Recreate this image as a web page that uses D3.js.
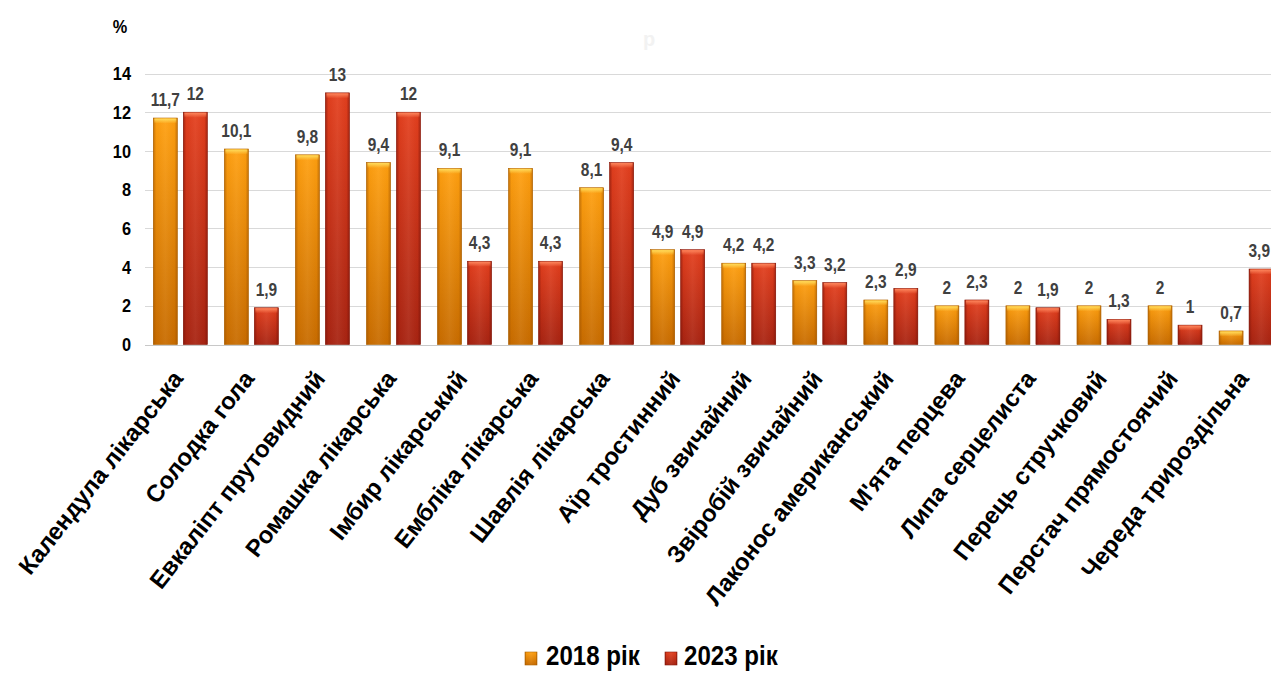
<!DOCTYPE html>
<html>
<head>
<meta charset="utf-8">
<script src="https://cdn.jsdelivr.net/npm/d3@7"></script>
<style>
  html, body { margin: 0; padding: 0; background: #fff; overflow: hidden; }
  svg { display: block; }
  .bold { font-family: "Liberation Sans", Arial, sans-serif; font-weight: bold; }
</style>
</head>
<body>
<svg id="chart" width="1271" height="675"></svg>
<script>
// Share of respondents per medicinal plant, %
const categories = [
  "Календула лікарська", "Солодка гола", "Евкаліпт прутовидний", "Ромашка лікарська",
  "Імбир лікарський", "Ембліка лікарська", "Шавлія лікарська", "Аїр тростинний",
  "Дуб звичайний", "Звіробій звичайний", "Лаконос американський", "М'ята перцева",
  "Липа серцелиста", "Перець стручковий", "Перстач прямостоячий", "Череда трироздільна"
];
const seriesNames = ["2018 рік", "2023 рік"];
const values2018 = [11.7, 10.1, 9.8, 9.4, 9.1, 9.1, 8.1, 4.9, 4.2, 3.3, 2.3, 2, 2, 2, 2, 0.7];
const values2023 = [12, 1.9, 13, 12, 4.3, 4.3, 9.4, 4.9, 4.2, 3.2, 2.9, 2.3, 1.9, 1.3, 1, 3.9];
const yTicks = [0, 2, 4, 6, 8, 10, 12, 14];

const svg = d3.select("#chart");
const W = 1271, H = 675;
const NARROW = 0.86; // horizontal squeeze for condensed number labels

const x = d3.scaleBand().domain(categories).range([144.8, 1281.6]).paddingInner(0).paddingOuter(0);
const xs = d3.scaleBand().domain(seriesNames).range([0, x.bandwidth()]).paddingInner(0.2).paddingOuter(0.284);
const y = d3.scaleLinear().domain([0, 14]).range([344.5, 73.5]);

// gradients
const defs = svg.append("defs");
const palettes = {
  "2018 рік": { top: "#ffa010", bottom: "#c86c00", edge: "#9a5000", bevel: "#ffe060", stroke: "#b06400" },
  "2023 рік": { top: "#e4401e", bottom: "#a82412", edge: "#701008", bevel: "#ff8a60", stroke: "#8a1a0a" }
};
seriesNames.forEach((s, i) => {
  const p = palettes[s];
  const v = defs.append("linearGradient").attr("id", "v" + i).attr("x1", 0).attr("y1", 0).attr("x2", 0).attr("y2", 1);
  v.append("stop").attr("offset", "0%").attr("stop-color", p.top);
  v.append("stop").attr("offset", "100%").attr("stop-color", p.bottom);
  const h = defs.append("linearGradient").attr("id", "h" + i).attr("x1", 0).attr("y1", 0).attr("x2", 1).attr("y2", 0);
  h.append("stop").attr("offset", "0%").attr("stop-color", p.edge).attr("stop-opacity", 0.55);
  h.append("stop").attr("offset", "12%").attr("stop-color", p.edge).attr("stop-opacity", 0.05);
  h.append("stop").attr("offset", "50%").attr("stop-color", "#fff").attr("stop-opacity", 0.06);
  h.append("stop").attr("offset", "88%").attr("stop-color", p.edge).attr("stop-opacity", 0.05);
  h.append("stop").attr("offset", "100%").attr("stop-color", p.edge).attr("stop-opacity", 0.55);
  const b = defs.append("linearGradient").attr("id", "b" + i).attr("x1", 0).attr("y1", 0).attr("x2", 0).attr("y2", 1);
  b.append("stop").attr("offset", "0%").attr("stop-color", p.bevel).attr("stop-opacity", 0.95);
  b.append("stop").attr("offset", "100%").attr("stop-color", p.bevel).attr("stop-opacity", 0);
});

// gridlines
svg.append("g").selectAll("line").data(yTicks).join("line")
  .attr("x1", 145).attr("x2", W)
  .attr("y1", d => Math.round(y(d)) + 0.5).attr("y2", d => Math.round(y(d)) + 0.5)
  .attr("stroke", d => d === 0 ? "#c8c8c8" : "#d9d9d9").attr("stroke-width", 1);

// y axis labels
const yAxis = d3.axisLeft(y).tickValues(yTicks).tickSize(0).tickPadding(0);
const ya = svg.append("g").attr("transform", "translate(131,0)").call(yAxis);
ya.select(".domain").remove();
ya.selectAll("text").attr("class", "bold").attr("font-size", 19).attr("fill", "#000")
  .attr("transform", `scale(${NARROW},1)`);

svg.append("text").attr("class", "bold").attr("transform", `translate(120,33) scale(${NARROW},1)`)
  .attr("text-anchor", "middle").attr("font-size", 19).attr("fill", "#000").text("%");
svg.append("text").attr("class", "bold").attr("x", 649).attr("y", 46)
  .attr("text-anchor", "middle").attr("font-size", 20).attr("fill", "#f2f2f2").text("р");

// bars
const rows = categories.map((c, i) => ({ c, vals: [values2018[i], values2023[i]] }));
const groups = svg.append("g").selectAll("g").data(rows).join("g")
  .attr("transform", d => `translate(${x(d.c)},0)`);

seriesNames.forEach((s, si) => {
  const bx = d => xs(s);
  const top = d => y(d.vals[si]);
  const hgt = d => y(0) - y(d.vals[si]);
  groups.append("rect").attr("x", bx).attr("y", top).attr("width", xs.bandwidth()).attr("height", hgt)
    .attr("fill", `url(#v${si})`).attr("stroke", palettes[s].stroke).attr("stroke-width", 0.6);
  groups.append("rect").attr("x", bx).attr("y", top).attr("width", xs.bandwidth()).attr("height", hgt)
    .attr("fill", `url(#h${si})`);
  groups.append("rect").attr("x", d => bx(d) + 1).attr("y", d => top(d) + 0.5).attr("width", xs.bandwidth() - 2)
    .attr("height", d => Math.min(5, hgt(d))).attr("fill", `url(#b${si})`);
  groups.append("text").attr("class", "bold")
    .attr("text-anchor", "middle").attr("font-size", 18).attr("fill", "#404040")
    .text(d => String(d.vals[si]).replace(".", ","))
    .each(function (d) {
      const cx = x(d.c) + bx(d) + xs.bandwidth() / 2;
      const half = this.getComputedTextLength() * NARROW / 2;
      // keep the label inside the drawing area
      const px = Math.min(cx, W - half - 1) - x(d.c);
      d3.select(this).attr("transform", `translate(${px},${top(d) - 12}) scale(${NARROW},1)`);
    });
});

// category labels
svg.append("g").selectAll("text").data(categories).join("text")
  .attr("class", "bold").attr("font-size", 24).attr("fill", "#000").attr("text-anchor", "end")
  .attr("transform", d => `translate(${x(d) + x.bandwidth() / 2 + 4},379) rotate(-52)`)
  .text(d => d);

// legend
const legend = [
  { name: seriesNames[0], sx: 525, tx: 546 },
  { name: seriesNames[1], sx: 665, tx: 684 }
];
legend.forEach((l, i) => {
  svg.append("rect").attr("x", l.sx).attr("y", 652).attr("width", 12).attr("height", 13)
    .attr("fill", `url(#v${i})`).attr("stroke", palettes[l.name].stroke).attr("stroke-width", 0.6);
  svg.append("rect").attr("x", l.sx).attr("y", 652).attr("width", 12).attr("height", 13).attr("fill", `url(#h${i})`);
  svg.append("text").attr("class", "bold").attr("transform", `translate(${l.tx},665) scale(0.86,1)`)
    .attr("font-size", 28).attr("fill", "#000").text(l.name);
});
</script>
</body>
</html>
